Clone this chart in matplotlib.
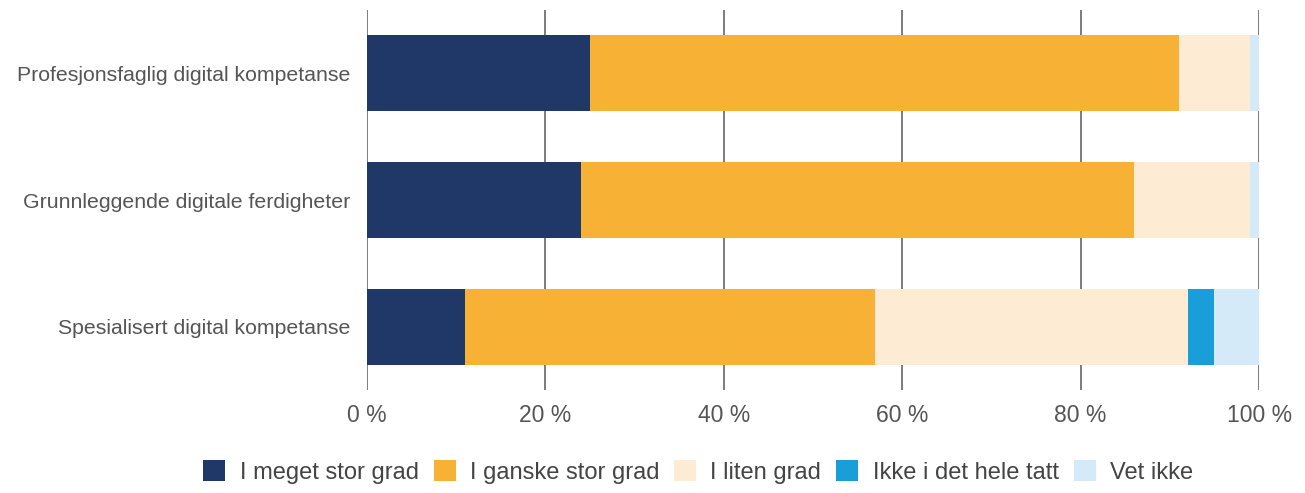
import numpy as np
import matplotlib
matplotlib.use("Agg")
import matplotlib.pyplot as plt
from matplotlib.patches import Patch

plt.rcParams['font.family'] = ['Liberation Sans', 'DejaVu Sans']

kategorier = ['Profesjonsfaglig digital kompetanse',
              'Grunnleggende digitale ferdigheter',
              'Spesialisert digital kompetanse']
svar = ['I meget stor grad', 'I ganske stor grad', 'I liten grad',
        'Ikke i det hele tatt', 'Vet ikke']
meget_stor = [25, 24, 11]
ganske_stor = [66, 62, 46]
liten = [8, 13, 35]
ikke_i_det_hele = [0, 0, 3]
vet_ikke = [1, 1, 5]
farger = ['#1f3868', '#f7b134', '#fdebd3', '#1a9ed9', '#d4eaf9']
xticks = [0, 20, 40, 60, 80, 100]

serier = [meget_stor, ganske_stor, liten, ikke_i_det_hele, vet_ikke]

fig = plt.figure(figsize=(13.05, 4.93), dpi=100)
ax = fig.add_axes([0.2812, 0.2089, 0.6836, 0.7708])

y = np.arange(len(kategorier))
venstre = np.zeros(len(kategorier))
for verdier, farge in zip(serier, farger):
    ax.barh(y, verdier, left=venstre, height=0.6, color=farge, zorder=3)
    venstre += np.array(verdier)

ax.set_xlim(0, 100)
ax.set_ylim(2.5, -0.5)
ax.set_yticks(y)
ax.set_yticklabels(kategorier, fontsize=15.3, color='#555555')
ax.set_xticks(xticks)
ax.set_xticklabels([f'{t} %' for t in xticks], fontsize=16.5, color='#555555')
ax.tick_params(length=0)
ax.tick_params(axis='y', pad=12)
ax.tick_params(axis='x', pad=10)
ax.grid(axis='x', color='#666666', linewidth=1.2, zorder=0)
for s in ax.spines.values():
    s.set_visible(False)

# forklaring under diagrammet, kvadratiske fargefelt
handles = [Patch(facecolor=f, edgecolor='none') for f in farger]
fig.legend(handles, svar, loc='lower center', ncol=5, frameon=False,
           bbox_to_anchor=(0.535, -0.024), fontsize=17, labelcolor='#444444',
           handlelength=0.93, handleheight=1.05, handletextpad=0.6,
           columnspacing=0.64)

fig.savefig('out.png', dpi=100)
